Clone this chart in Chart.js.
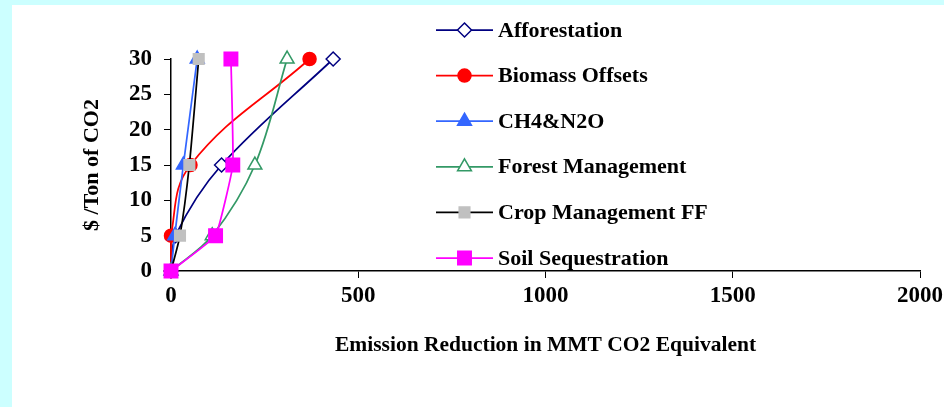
<!DOCTYPE html>
<html>
<head>
<meta charset="utf-8">
<script src="https://cdn.jsdelivr.net/npm/chart.js@4/dist/chart.umd.min.js"></script>
<style>
  html, body { margin: 0; padding: 0; background: #ccffff; }
  body { width: 944px; height: 407px; position: relative; overflow: hidden; }
  #panel { position: absolute; left: 12px; top: 5px; width: 932px; height: 402px; background: #ffffff; }
</style>
</head>
<body>
<div id="panel"><canvas id="costChart"></canvas></div>
<script>
// Price levels ($ / ton CO2) and emission reduction (MMT CO2 eq.) per option
const prices = [0, 5, 15, 30];
const afforestation = [0, 12, 135, 433];
const biomassOffsets = [0, 0, 52, 370];
const ch4n2o = [0, 10, 33, 70];
const forestManagement = [0, 110, 224, 310];
const cropManagementFF = [0, 24, 49, 74];
const soilSequestration = [0, 119, 165, 160];

const seriesNames = [
  "Afforestation",
  "Biomass Offsets",
  "CH4&N2O",
  "Forest Management",
  "Crop Management FF",
  "Soil Sequestration",
];
const xTicks = [0, 500, 1000, 1500, 2000];
const yTicks = [0, 5, 10, 15, 20, 25, 30];

const FONT = "'Liberation Serif', 'Times New Roman', serif";

const styles = [
  { line: "#000080", fill: "#ffffff", stroke: "#000080", shape: "rectRot", r: 7, tension: 0.35 },
  { line: "#ff0000", fill: "#ff0000", stroke: "#ff0000", shape: "circle", r: 6.5, tension: 0.4 },
  { line: "#3366ff", fill: "#3366ff", stroke: "#3366ff", shape: "triangle", r: 8, tension: 0.2 },
  { line: "#339966", fill: "#ffffff", stroke: "#339966", shape: "triangle", r: 8, tension: 0.35 },
  { line: "#000000", fill: "#c0c0c0", stroke: "#c0c0c0", shape: "rect", r: 7.5, tension: 0.2 },
  { line: "#ff00ff", fill: "#ff00ff", stroke: "#ff00ff", shape: "rect", r: 9.5, tension: 0.1 },
];

const xValues = [afforestation, biomassOffsets, ch4n2o, forestManagement, cropManagementFF, soilSequestration];

const datasets = xValues.map((xs, i) => ({
  label: seriesNames[i],
  data: xs.map((x, j) => ({ x: x, y: prices[j] })),
  borderColor: styles[i].line,
  borderWidth: 1.75,
  pointStyle: styles[i].shape,
  pointRadius: styles[i].r,
  pointBackgroundColor: styles[i].fill,
  pointBorderColor: styles[i].stroke,
  pointBorderWidth: 1.5,
  tension: styles[i].tension,
  fill: false,
  clip: false,
  order: seriesNames.length - i,
}));

// small marker painter for the legend
function drawMarker(ctx, shape, x, y, r, fill, stroke) {
  ctx.save();
  ctx.fillStyle = fill;
  ctx.strokeStyle = stroke;
  ctx.lineWidth = 1.5;
  ctx.beginPath();
  if (shape === "circle") {
    ctx.arc(x, y, r, 0, Math.PI * 2);
  } else if (shape === "rect") {
    const s = r * Math.SQRT1_2;
    ctx.rect(x - s, y - s, 2 * s, 2 * s);
  } else if (shape === "rectRot") {
    ctx.moveTo(x, y - r);
    ctx.lineTo(x + r, y);
    ctx.lineTo(x, y + r);
    ctx.lineTo(x - r, y);
    ctx.closePath();
  } else if (shape === "triangle") {
    const h = r * 1.5;
    const half = r * Math.sqrt(3) / 2;
    ctx.moveTo(x, y - r);
    ctx.lineTo(x + half, y + h - r);
    ctx.lineTo(x - half, y + h - r);
    ctx.closePath();
  }
  ctx.fill();
  ctx.stroke();
  ctx.restore();
}

const sideLegend = {
  id: "sideLegend",
  afterDraw(chart) {
    const ctx = chart.ctx;
    const lineX0 = 424, lineX1 = 481, textX = 486, top = 25, step = 45.6;
    chart.data.datasets.forEach((ds, i) => {
      const y = top + i * step;
      const st = styles[i];
      ctx.save();
      ctx.strokeStyle = st.line;
      ctx.lineWidth = 1.75;
      ctx.beginPath();
      ctx.moveTo(lineX0, y);
      ctx.lineTo(lineX1, y);
      ctx.stroke();
      ctx.restore();
      drawMarker(ctx, st.shape, (lineX0 + lineX1) / 2, y, st.r, st.fill, st.stroke);
      ctx.save();
      ctx.fillStyle = "#000";
      ctx.font = "bold 22px " + FONT;
      ctx.textAlign = "left";
      ctx.textBaseline = "middle";
      ctx.fillText(ds.label, textX, y + 1);
      ctx.restore();
    });
  },
};

Chart.defaults.font.family = FONT;
Chart.defaults.font.weight = "bold";
Chart.defaults.color = "#000";

new Chart(document.getElementById("costChart"), {
  type: "line",
  data: { datasets: datasets },
  plugins: [sideLegend],
  options: {
    responsive: true,
    maintainAspectRatio: false,
    animation: false,
    layout: { padding: { left: 63, right: 24, top: 54, bottom: 45 } },
    plugins: {
      legend: { display: false },
      tooltip: { enabled: false },
    },
    scales: {
      x: {
        type: "linear",
        min: 0,
        max: 2000,
        afterFit: (s) => {
          s.height = 91;
          s.paddingRight = 0; // last label may overhang the right padding
        },
        afterBuildTicks: (s) => { s.ticks = xTicks.map((v) => ({ value: v })); },
        grid: { drawOnChartArea: false, drawTicks: true, tickLength: 7, color: "#000", lineWidth: 1 },
        border: { display: true, color: "#000", width: 1.5 },
        ticks: {
          font: { size: 23, weight: "bold" },
          padding: 4,
          maxRotation: 0,
          callback: (v) => String(v),
        },
        title: {
          display: true,
          text: "Emission Reduction in MMT CO2 Equivalent",
          font: { size: 21.5, weight: "bold" },
        },
      },
      y: {
        type: "linear",
        min: 0,
        max: 30,
        afterFit: (s) => { s.width = 96; },
        afterBuildTicks: (s) => { s.ticks = yTicks.map((v) => ({ value: v })); },
        grid: { drawOnChartArea: false, drawTicks: true, tickLength: 7, color: "#000", lineWidth: 1 },
        border: { display: true, color: "#000", width: 1.5 },
        ticks: {
          font: { size: 23, weight: "bold" },
          padding: 12,
          callback: (v) => String(v),
        },
        title: {
          display: true,
          text: "$ /Ton of CO2",
          font: { size: 22, weight: "bold" },
        },
      },
    },
  },
});
</script>
</body>
</html>
